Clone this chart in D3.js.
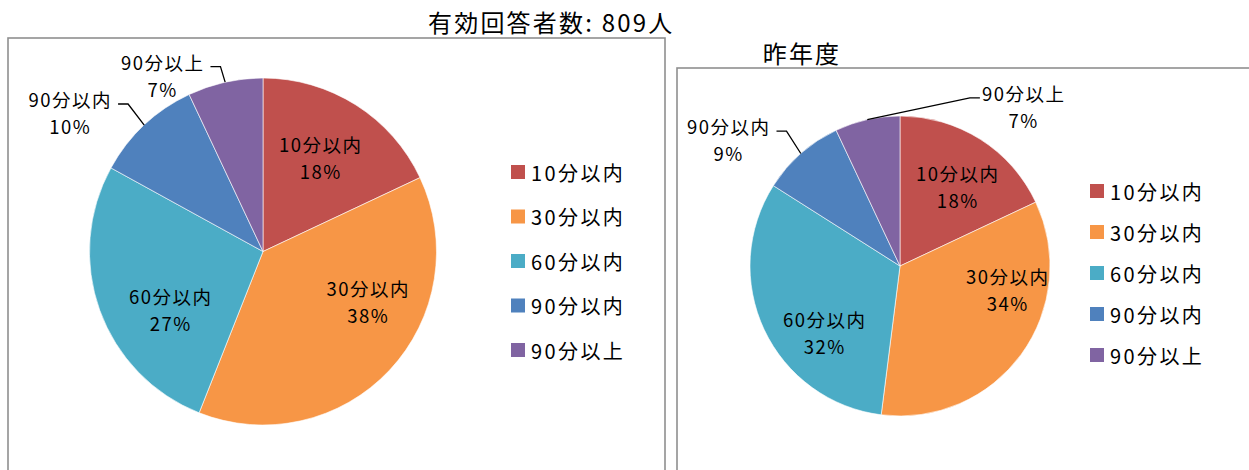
<!DOCTYPE html>
<html><head><meta charset="utf-8">
<script src="https://cdn.jsdelivr.net/npm/d3@7"></script>
<style>
html,body{margin:0;padding:0;background:#fff;}
svg{display:block;font-family:"Noto Sans CJK JP","Noto Sans",sans-serif;}
</style></head>
<body>
<svg id="chart" width="1249" height="470"></svg>
<script>
// ---- data ----
const categories = ["10分以内", "30分以内", "60分以内", "90分以内", "90分以上"];
const currentValues = [18, 38, 27, 10, 7];
const lastYearValues = [18, 34, 32, 9, 7];
const currentTitle = "有効回答者数: 809人";
const lastYearTitle = "昨年度";
const colors = ["#C0504D", "#F79646", "#4BACC6", "#4F81BD", "#8064A2"];

// ---- layout (label placement in polar terms: [angle deg, radius fraction]) ----
const layouts = [
  {
    values: currentValues,
    box: {x: 8, y: 38, w: 657, h: 460},
    title: {text: currentTitle, x: 428, y: 21.5, anchor: "start"},
    cx: 263, cy: 251.5, r: 173.5,
    labels: [[31.1, 0.636], [115.6, 0.668], [238.0, 0.632], [305.7, 1.373], [330.2, 1.172]],
    legend: {x: 511, y0: 172, step: 44.5}
  },
  {
    values: lastYearValues,
    box: {x: 677, y: 68, w: 600, h: 430},
    title: {text: lastYearTitle, x: 802, y: 52.5, anchor: "middle"},
    cx: 900, cy: 266, r: 150,
    labels: [[35.5, 0.655], [102.4, 0.73], [229.0, 0.671], [306.3, 1.423], [37.6, 1.343]],
    legend: {x: 1090, y0: 191, step: 41}
  }
];

const svg = d3.select("#chart");
const color = d3.scaleOrdinal().domain(categories).range(colors);
const rad = d => d * Math.PI / 180;

layouts.forEach(L => {
  // box
  svg.append("rect")
    .attr("x", L.box.x).attr("y", L.box.y)
    .attr("width", L.box.w).attr("height", L.box.h)
    .attr("fill", "#fff").attr("stroke", "#8f8f8f").attr("stroke-width", 1.6);

  // title
  svg.append("text")
    .attr("x", L.title.x).attr("y", L.title.y)
    .attr("text-anchor", L.title.anchor)
    .attr("dominant-baseline", "central")
    .attr("font-size", 24).attr("letter-spacing", 2.2).attr("fill", "#000")
    .text(L.title.text);

  const data = categories.map((c, i) => ({cat: c, value: L.values[i]}));
  const pie = d3.pie().sort(null).value(d => d.value);
  const arcs = pie(data);
  const arc = d3.arc().innerRadius(0).outerRadius(L.r);

  const g = svg.append("g").attr("transform", `translate(${L.cx},${L.cy})`);
  g.selectAll("path.slice").data(arcs).enter().append("path")
    .attr("class", "slice")
    .attr("d", arc)
    .attr("fill", d => color(d.data.cat))
    .attr("stroke", "#fff").attr("stroke-width", 0.6);

  // labels
  const fs = 18.5, ls = 1.5, lh = 27;
  arcs.forEach((a, i) => {
    const [ang, k] = L.labels[i];
    const lx = Math.sin(rad(ang)) * k * L.r + ls / 2;
    const ly = -Math.cos(rad(ang)) * k * L.r;
    const t1 = g.append("text")
      .attr("x", lx).attr("y", ly - lh / 2)
      .attr("text-anchor", "middle").attr("dominant-baseline", "central")
      .attr("font-size", fs).attr("letter-spacing", ls).attr("fill", "#000")
      .text(a.data.cat);
    g.append("text")
      .attr("x", lx).attr("y", ly + lh / 2)
      .attr("text-anchor", "middle").attr("dominant-baseline", "central")
      .attr("font-size", fs).attr("letter-spacing", ls).attr("fill", "#000")
      .text(a.data.value + "%");
    if (k > 1) {
      // leader line
      const mid = (a.startAngle + a.endAngle) / 2;
      const sx = Math.sin(mid) * L.r, sy = -Math.cos(mid) * L.r;
      const w = t1.node().getComputedTextLength();
      const right = lx > sx; // label lies to the right of the start point
      const ex = right ? lx - w / 2 - 2 : lx + w / 2 + 6;
      const ey = ly - lh / 2 + 5;
      const bx = right ? ex - 10 : ex + 10;
      g.append("path")
        .attr("d", d3.line()([[sx, sy], [bx, ey], [ex, ey]]))
        .attr("fill", "none").attr("stroke", "#000").attr("stroke-width", 1.3);
    }
  });

  // legend
  const lg = svg.append("g");
  const rows = lg.selectAll("g").data(categories).enter().append("g")
    .attr("transform", (d, i) => `translate(${L.legend.x},${L.legend.y0 + i * L.legend.step})`);
  rows.append("rect").attr("x", 0).attr("y", -7).attr("width", 14).attr("height", 14)
    .attr("fill", d => color(d));
  rows.append("text").attr("x", 20).attr("y", 0)
    .attr("dominant-baseline", "central").attr("font-size", 20).attr("letter-spacing", 2.4)
    .attr("fill", "#000")
    .text(d => d);
});
</script>
</body></html>
